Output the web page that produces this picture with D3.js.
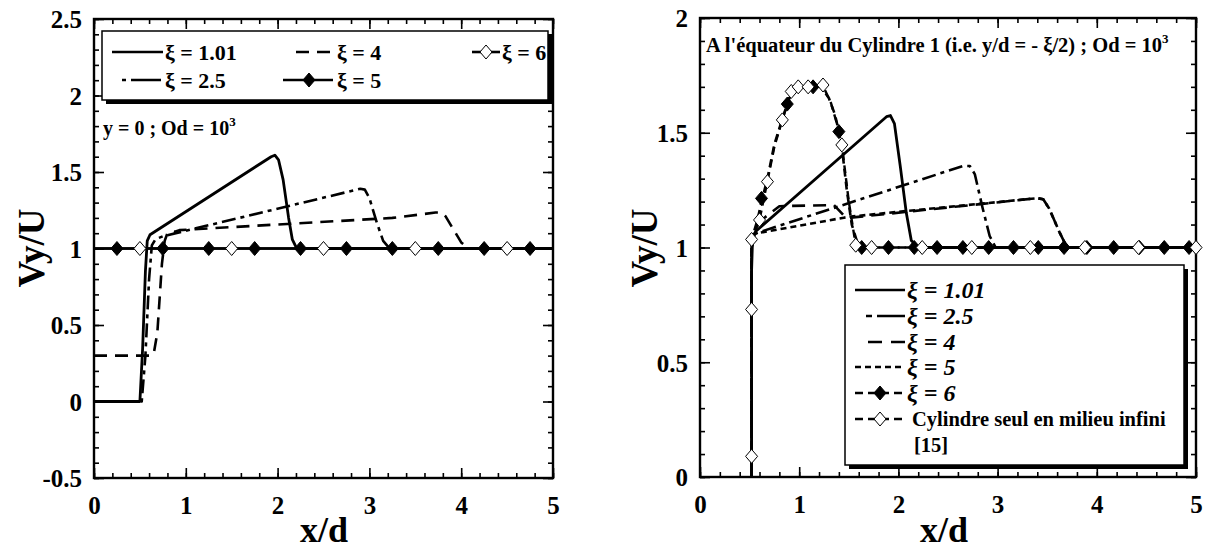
<!DOCTYPE html>
<html><head><meta charset="utf-8">
<script src="https://cdn.jsdelivr.net/npm/d3@7"></script>
<style>
body{margin:0;background:#fff}
svg{display:block}
text{font-family:"Liberation Serif","Times New Roman",serif;font-weight:bold;fill:#000}
</style>
</head><body>
<svg id="c" width="1215" height="552"></svg>
<script>
// ---------- DATA ----------
const xMajorTicks = [0, 1, 2, 3, 4, 5];
const leftYTicks = [-0.5, 0, 0.5, 1, 1.5, 2, 2.5];
const rightYTicks = [0, 0.5, 1, 1.5, 2];

// Left chart : y = 0 ; Od = 10^3
const L_xi101 = [[0,0],[0.5,0],[0.53,0.35],[0.56,0.85],[0.58,1.05],[0.61,1.09],[1.93,1.6],[1.97,1.61],[2.01,1.58],[2.06,1.45],[2.12,1.2],[2.16,1.06],[2.2,1.01],[2.25,1.0],[5,1.0]];
const L_xi25  = [[0,0],[0.52,0],[0.56,0.3],[0.6,0.8],[0.63,1.02],[0.67,1.06],[0.75,1.08],[2.9,1.39],[2.95,1.385],[3.0,1.33],[3.08,1.17],[3.15,1.05],[3.22,1.0],[5,1.0]];
const L_xi4   = [[0,0.3],[0.6,0.3],[0.65,0.31],[0.69,0.45],[0.74,0.9],[0.77,1.05],[0.8,1.1],[0.84,1.115],[0.88,1.11],[0.93,1.12],[3.25,1.2],[3.72,1.235],[3.78,1.235],[3.83,1.21],[3.92,1.12],[4.0,1.04],[4.08,1.0],[5,1.0]];
const L_xi5   = [[0,1],[5,1]];
const L_xi5Markers = [0.25,0.75,1.25,1.75,2.25,2.75,3.25,3.75,4.25,4.75];
const L_xi6   = [[0,1],[5,1]];
const L_xi6Markers = [0.5,1.5,2.5,3.5,4.5];

// Right chart : equator of cylinder 1
const R_xi101 = [[0.52,0],[0.52,0.9],[0.53,1.04],[0.56,1.07],[1.88,1.57],[1.92,1.575],[1.96,1.54],[2.02,1.35],[2.08,1.15],[2.13,1.03],[2.2,1.0],[5,1.0]];
const R_xi25  = [[0.52,0],[0.52,1.0],[0.55,1.06],[2.65,1.355],[2.72,1.355],[2.77,1.32],[2.85,1.17],[2.92,1.05],[2.98,1.0],[5,1.0]];
const R_xi4   = [[0.52,0],[0.52,1.0],[0.55,1.06],[0.65,1.13],[0.8,1.18],[1.35,1.185],[1.45,1.14],[1.52,1.13],[3.4,1.215],[3.46,1.21],[3.52,1.17],[3.62,1.07],[3.7,1.0],[5,1.0]];
const R_xi5   = [[0.52,0],[0.52,1.0],[0.55,1.06],[1.45,1.13],[1.52,1.135],[3.4,1.215],[3.46,1.21],[3.52,1.17],[3.62,1.07],[3.7,1.0],[5,1.0]];
const R_xi6   = [[0.52,0],[0.52,1.0],[0.53,1.05],[0.58,1.12],[0.62,1.2],[0.68,1.3],[0.75,1.45],[0.83,1.56],[0.9,1.65],[0.98,1.695],[1.1,1.705],[1.22,1.7],[1.3,1.65],[1.36,1.58],[1.4,1.505],[1.44,1.4],[1.48,1.25],[1.53,1.1],[1.58,1.03],[1.65,1.0],[5,1.0]];
const R_xi6Markers = [[0.62,1.214],[0.88,1.625],[1.14,1.70],[1.40,1.505],[1.63,1],[1.90,1],[2.16,1],[2.39,1],[2.65,1],[2.91,1],[3.16,1],[3.41,1],[3.67,1],[3.9,1],[4.17,1],[4.43,1],[4.68,1],[4.93,1]];
const R_cyl   = [[0.52,0],[0.52,1.0],[0.53,1.04],[0.6,1.12],[0.68,1.29],[0.75,1.44],[0.83,1.556],[0.92,1.68],[0.99,1.70],[1.09,1.705],[1.24,1.705],[1.32,1.63],[1.38,1.54],[1.43,1.447],[1.5,1.2],[1.57,1.01],[1.65,1.0],[5,1.0]];
const R_cylMarkers = [[0.52,0.09],[0.52,0.73],[0.52,1.035],[0.6,1.12],[0.68,1.287],[0.83,1.556],[0.92,1.68],[0.99,1.70],[1.09,1.70],[1.24,1.708],[1.43,1.447],[1.57,1.01],[1.73,1.0],[2.24,1],[2.74,1],[3.33,1],[3.88,1],[4.42,1],[5.0,1]];

// ---------- STYLES ----------
const DASH_25 = "14,5,4,5";
const DASH_4 = "13,8";
const DASH_5 = "6,4";
const DASH_6 = "8,5";

const svg = d3.select("#c");

function diamond(g, cx, cy, filled){
  const w = 6, h = 7;
  g.append("path")
   .attr("d", `M${cx},${cy-h}L${cx+w},${cy}L${cx},${cy+h}L${cx-w},${cy}Z`)
   .attr("fill", filled ? "#000" : "#fff")
   .attr("stroke", "#000").attr("stroke-width", 1);
}

function frame(box, yDomain, yTicks, yMinorStep){
  const x = d3.scaleLinear().domain([0,5]).range([box.x0, box.x1]);
  const y = d3.scaleLinear().domain(yDomain).range([box.y1, box.y0]);
  const g = svg.append("g");
  const xMinor = d3.range(0, 5.0001, 0.2).map(v => +v.toFixed(2));
  const yMinor = d3.range(yDomain[0], yDomain[1] + 1e-6, yMinorStep).map(v => +v.toFixed(2));
  const clean = a => a.call(s => s.select(".domain").remove()).call(s => s.selectAll("line").attr("stroke-width", 1.6));
  g.append("g").attr("transform", `translate(0,${box.y1})`).call(d3.axisBottom(x).tickValues(xMinor).tickSize(-5).tickFormat("")).call(clean);
  g.append("g").attr("transform", `translate(0,${box.y0})`).call(d3.axisTop(x).tickValues(xMinor).tickSize(-5).tickFormat("")).call(clean);
  g.append("g").attr("transform", `translate(${box.x0},0)`).call(d3.axisLeft(y).tickValues(yMinor).tickSize(-5).tickFormat("")).call(clean);
  g.append("g").attr("transform", `translate(${box.x1},0)`).call(d3.axisRight(y).tickValues(yMinor).tickSize(-5).tickFormat("")).call(clean);
  g.append("g").attr("transform", `translate(0,${box.y1})`).call(d3.axisBottom(x).tickValues(xMajorTicks).tickSize(-10).tickPadding(18).tickFormat(d3.format("d"))).call(clean);
  g.append("g").attr("transform", `translate(0,${box.y0})`).call(d3.axisTop(x).tickValues(xMajorTicks).tickSize(-10).tickFormat("")).call(clean);
  const ya = g.append("g").attr("transform", `translate(${box.x0},0)`).call(d3.axisLeft(y).tickValues(yTicks).tickSize(-10).tickPadding(12).tickFormat(d => String(d))).call(clean);
  g.append("g").attr("transform", `translate(${box.x1},0)`).call(d3.axisRight(y).tickValues(yTicks).tickSize(-10).tickFormat("")).call(clean);
  g.selectAll(".tick text").attr("font-family", "Liberation Serif").attr("font-weight", "bold").attr("font-size", 25).attr("fill", "#000");
  ya.selectAll(".tick text").attr("dy", "0.35em");
  svg.append("rect").attr("x", box.x0).attr("y", box.y0).attr("width", box.x1 - box.x0).attr("height", box.y1 - box.y0)
     .attr("fill", "none").attr("stroke", "#000").attr("stroke-width", 2.4);
  return {x, y};
}

function curve(sc, data, dash, width){
  const line = d3.line().x(d => sc.x(d[0])).y(d => sc.y(d[1])).curve(d3.curveLinear);
  svg.append("path").attr("d", line(data)).attr("fill", "none").attr("stroke", "#000")
     .attr("stroke-width", width || 2.6).attr("stroke-dasharray", dash || null)
     .attr("stroke-linejoin", "round");
}

// ---------- LEFT CHART ----------
const LB = {x0: 94, x1: 553, y0: 19, y1: 478};
const ls = frame(LB, [-0.5, 2.5], leftYTicks, 0.1);
curve(ls, L_xi6, null, 2.6);
curve(ls, L_xi5, null, 2.6);
curve(ls, L_xi4, DASH_4, 2.6);
curve(ls, L_xi25, DASH_25, 2.6);
curve(ls, L_xi101, null, 2.8);
L_xi5Markers.forEach(v => diamond(svg, ls.x(v), ls.y(1), true));
L_xi6Markers.forEach(v => diamond(svg, ls.x(v), ls.y(1), false));

svg.append("rect").attr("x", 106).attr("y", 35).attr("width", 446).attr("height", 69).attr("fill", "#000");
svg.append("rect").attr("x", 102).attr("y", 31).attr("width", 446).attr("height", 69).attr("fill", "#fff").attr("stroke", "#000").attr("stroke-width", 1.5);
function legLine(x1, x2, yy, dash){
  svg.append("line").attr("x1", x1).attr("x2", x2).attr("y1", yy).attr("y2", yy).attr("stroke", "#000").attr("stroke-width", 2.6).attr("stroke-dasharray", dash || null);
}
function legText(xx, yy, label, size, italic){
  svg.append("text").attr("x", xx).attr("y", yy).attr("dy", "0.35em").attr("font-size", size).attr("font-style", italic ? "italic" : "normal").text(label);
}
legLine(112, 163, 52); legText(165, 52, "ξ = 1.01", 22);
legLine(296, 333, 52, DASH_4); legText(337, 52, "ξ = 4", 22);
legLine(472, 500, 52); diamond(svg, 486, 52, false); legText(502, 52, "ξ = 6", 22);
legLine(122, 163, 80, "4,5,30"); legText(165, 80, "ξ = 2.5", 22);
legLine(283, 333, 80); diamond(svg, 309, 80, true); legText(337, 80, "ξ = 5", 22);

const lnote = svg.append("text").attr("x", 103).attr("y", 135).attr("font-size", 20);
lnote.append("tspan").text("y = 0 ; Od = 10");
lnote.append("tspan").attr("font-size", 13).attr("dy", -9).text("3");

svg.append("text").attr("transform", "translate(44,248) rotate(-90)").attr("text-anchor", "middle").attr("font-size", 37).text("Vy/U");
svg.append("text").attr("x", 324).attr("y", 542).attr("text-anchor", "middle").attr("font-size", 36).text("x/d");

// ---------- RIGHT CHART ----------
const RB = {x0: 700, x1: 1196, y0: 18, y1: 477};
const rs = frame(RB, [0, 2], rightYTicks, 0.1);
curve(rs, R_cyl, DASH_6, 2.4);
curve(rs, R_xi6, DASH_6, 2.6);
curve(rs, R_xi5, DASH_5, 2.6);
curve(rs, R_xi4, DASH_4, 2.6);
curve(rs, R_xi25, DASH_25, 2.6);
curve(rs, R_xi101, null, 2.8);
R_xi6Markers.forEach(d => diamond(svg, rs.x(d[0]), rs.y(d[1]), true));
R_cylMarkers.forEach(d => diamond(svg, rs.x(d[0]), rs.y(d[1]), false));

const rtitle = svg.append("text").attr("x", 706).attr("y", 52).attr("font-size", 20.5);
rtitle.append("tspan").text("A l'équateur du Cylindre 1 (i.e. y/d = - ξ/2) ; Od = 10");
rtitle.append("tspan").attr("font-size", 13).attr("dy", -9).text("3");

svg.append("rect").attr("x", 849).attr("y", 269).attr("width", 339).attr("height", 200).attr("fill", "#000");
svg.append("rect").attr("x", 845).attr("y", 265).attr("width", 339).attr("height", 200).attr("fill", "#fff").attr("stroke", "#000").attr("stroke-width", 1.5);
legLine(855, 905, 290); legText(907, 290, "ξ = 1.01", 24, true);
legLine(866, 905, 316, "6,5,30"); legText(907, 316, "ξ = 2.5", 24, true);
legLine(868, 905, 342, "14,9"); legText(907, 342, "ξ = 4", 24, true);
legLine(855, 905, 367, DASH_5); legText(907, 367, "ξ = 5", 24, true);
legLine(855, 905, 393, DASH_6); diamond(svg, 880, 393, true); legText(907, 393, "ξ = 6", 24, true);
legLine(855, 905, 419, DASH_6); diamond(svg, 880, 419, false); legText(912, 419, "Cylindre seul en milieu infini", 20.5, false);
legText(914, 445, "[15]", 20.5, false);

svg.append("text").attr("transform", "translate(657,248) rotate(-90)").attr("text-anchor", "middle").attr("font-size", 37).text("Vy/U");
svg.append("text").attr("x", 944).attr("y", 542).attr("text-anchor", "middle").attr("font-size", 36).text("x/d");
</script>
</body></html>
